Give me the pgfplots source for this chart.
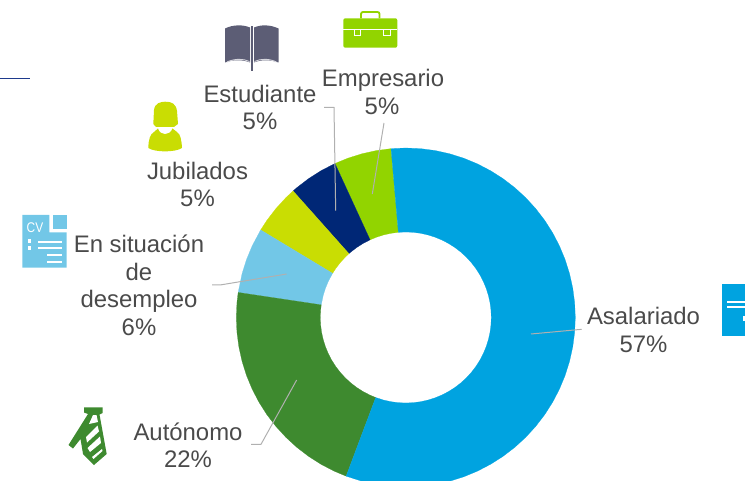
\documentclass[border=0pt]{standalone}
\usepackage{pgfplots}
\usepackage{fontspec}
\setmainfont{Liberation Sans}
\pgfplotsset{compat=1.18}
\definecolor{cAsal}{HTML}{00A3E0}
\definecolor{cAut}{HTML}{3E8A2F}
\definecolor{cDes}{HTML}{72C7E7}
\definecolor{cJub}{HTML}{C9DD03}
\definecolor{cEst}{HTML}{002776}
\definecolor{cEmp}{HTML}{92D400}
\definecolor{cBook}{HTML}{5C5D75}
\definecolor{cTxt}{HTML}{4A4A4A}
\definecolor{cLead}{HTML}{B0B0B0}
\begin{document}
\begin{tikzpicture}
\path[use as bounding box] (0,0) rectangle (745pt,480pt);
\begin{axis}[
  at={(0,0)},anchor=south west,
  width=745pt,height=480pt,scale only axis,
  xmin=-405.8,xmax=339.2,ymin=-162.5,ymax=317.5,
  hide axis,clip=true,
  every axis plot/.append style={no markers,line width=0.2pt,data cs=polar}]
% Empresario 5%
\addplot[fill=cEmp,draw=cEmp] coordinates {
 (95,169.5)(100,169.5)(105,169.5)(110,169.5)(114.7,169.5)
 (114.7,85.5)(110,85.5)(105,85.5)(100,85.5)(95,85.5)(95,169.5)};
% Estudiante 5%
\addplot[fill=cEst,draw=cEst] coordinates {
 (114.7,169.5)(120,169.5)(125,169.5)(130,169.5)(131.7,169.5)
 (131.7,85.5)(130,85.5)(125,85.5)(120,85.5)(114.7,85.5)(114.7,169.5)};
% Jubilados 5%
\addplot[fill=cJub,draw=cJub] coordinates {
 (131.7,169.5)(135,169.5)(140,169.5)(145,169.5)(148.9,169.5)
 (148.9,85.5)(145,85.5)(140,85.5)(135,85.5)(131.7,85.5)(131.7,169.5)};
% En situacion de desempleo 6%
\addplot[fill=cDes,draw=cDes] coordinates {
 (148.9,169.5)(155,169.5)(160,169.5)(165,169.5)(171.5,169.5)
 (171.5,85.5)(165,85.5)(160,85.5)(155,85.5)(148.9,85.5)(148.9,169.5)};
% Autonomo 22%
\addplot[fill=cAut,draw=cAut] coordinates {
 (171.5,169.5)(175,169.5)(180,169.5)(185,169.5)(190,169.5)(195,169.5)(200,169.5)(205,169.5)(210,169.5)(215,169.5)(220,169.5)(225,169.5)(230,169.5)(235,169.5)(240,169.5)(245,169.5)(249.4,169.5)
 (249.4,85.5)(245,85.5)(240,85.5)(235,85.5)(230,85.5)(225,85.5)(220,85.5)(215,85.5)(210,85.5)(205,85.5)(200,85.5)(195,85.5)(190,85.5)(185,85.5)(180,85.5)(175,85.5)(171.5,85.5)(171.5,169.5)};
% Asalariado 57%
\addplot[fill=cAsal,draw=cAsal] coordinates {
 (-110.6,169.5)(-105,169.5)(-100,169.5)(-95,169.5)(-90,169.5)(-85,169.5)(-80,169.5)(-75,169.5)(-70,169.5)(-65,169.5)(-60,169.5)(-55,169.5)(-50,169.5)(-45,169.5)(-40,169.5)(-35,169.5)(-30,169.5)(-25,169.5)(-20,169.5)(-15,169.5)(-10,169.5)(-5,169.5)(0,169.5)(5,169.5)(10,169.5)(15,169.5)(20,169.5)(25,169.5)(30,169.5)(35,169.5)(40,169.5)(45,169.5)(50,169.5)(55,169.5)(60,169.5)(65,169.5)(70,169.5)(75,169.5)(80,169.5)(85,169.5)(90,169.5)(95,169.5)
 (95,85.5)(90,85.5)(85,85.5)(80,85.5)(75,85.5)(70,85.5)(65,85.5)(60,85.5)(55,85.5)(50,85.5)(45,85.5)(40,85.5)(35,85.5)(30,85.5)(25,85.5)(20,85.5)(15,85.5)(10,85.5)(5,85.5)(0,85.5)(-5,85.5)(-10,85.5)(-15,85.5)(-20,85.5)(-25,85.5)(-30,85.5)(-35,85.5)(-40,85.5)(-45,85.5)(-50,85.5)(-55,85.5)(-60,85.5)(-65,85.5)(-70,85.5)(-75,85.5)(-80,85.5)(-85,85.5)(-90,85.5)(-95,85.5)(-100,85.5)(-105,85.5)(-110.6,85.5)(-110.6,169.5)};
\end{axis}
\begin{scope}[x=1pt,y=-1pt,yshift=480pt]
% header rule
\draw[color={rgb,255:red,30;green,58;blue,140},line width=1.5pt] (0,78.3)--(29.7,78.3);
% leaders
\begin{scope}[cLead,line width=1pt]
\draw (384,123)--(372.3,194);
\draw (324,107.3)--(334,107.3)--(335.7,210.7);
\draw (212,285)--(220,285)--(286.7,274);
\draw (251,444.3)--(261,444.3)--(296.7,380);
\draw (581.7,329.3)--(531,334);
\end{scope}
% labels
\begin{scope}[every node/.style={anchor=base,inner sep=0pt,text=cTxt,font=\fontsize{23.9}{27}\selectfont}]
\node at (383,86.5) {Empresario};
\node at (382,114.5) {5\%};
\node at (260,102.5) {Estudiante};
\node at (260,130) {5\%};
\node at (197.5,179.5) {Jubilados};
\node at (197.5,207) {5\%};
\node at (139,253) {En situación};
\node at (139,280.5) {de};
\node at (139,308) {desempleo};
\node at (139,335.5) {6\%};
\node at (188,440) {Autónomo};
\node at (188,467.5) {22\%};
\node at (643.5,325) {Asalariado};
\node at (643.5,352.5) {57\%};
\end{scope}
% book icon
\fill[cBook] (225,28.5) .. controls (233,24.5) and (243,24.5) .. (250,27.5) -- (250,62.5) .. controls (243,59.5) and (233,59.5) .. (225,62.5) -- cycle;
\fill[cBook] (278.5,28.5) .. controls (270,24.5) and (261,24.5) .. (254,27.5) -- (254,62.5) .. controls (261,59.5) and (270,59.5) .. (278.5,62.5) -- cycle;
\fill[cBook] (250.8,26) rectangle (253.3,71);
\draw[white!75!cBook,line width=.9pt] (227,62) .. controls (235,58.5) and (243,58.5) .. (249.5,61.5);
\draw[white!75!cBook,line width=.9pt] (276.5,62) .. controls (269,58.5) and (261,58.5) .. (254.5,61.5);
% briefcase icon
\draw[cEmp,line width=1.8pt,rounded corners=2pt] (361,18.5)--(361,12)--(379.5,12)--(379.5,18.5);
\fill[cEmp,rounded corners=2pt] (343.3,18.3) rectangle (397.3,47.7);
\fill[white] (343.3,29) rectangle (397.3,30.3);
\draw[white,line width=1pt] (354,30)--(354,35.5)--(360.5,35.5)--(360.5,30);
\draw[white,line width=1pt] (383,30)--(383,35.5)--(390,35.5)--(390,30);
% person icon
\fill[cJub] (153.3,124) -- (154,110) .. controls (155,103) and (160,102) .. (165,101.7) .. controls (172,101.5) and (176,104) .. (177,111) -- (178,124) -- (174,127) -- (156,127) -- cycle;
\fill[cJub] (148.3,148) .. controls (148.5,140) and (150,134) .. (154,132) -- (158,128.5) .. controls (160,136) and (170,136) .. (172.5,128.5) -- (177,132) .. controls (180.5,134) and (181.5,140) .. (182,148) .. controls (175,152.5) and (155,152.5) .. (148.3,148) -- cycle;
% CV icon
\fill[cDes] (22.3,215) -- (49.3,215) -- (49.3,232.3) -- (66.7,232.3) -- (66.7,267.7) -- (22.3,267.7) -- cycle;
\fill[cDes] (52.7,215) rectangle (66.7,229.3);
\node[text=white,anchor=base,inner sep=0pt,font=\fontsize{14}{14}\selectfont] at (35,232.3) {\scalebox{.85}[1]{CV}};
\fill[white] (28,239.5) rectangle (31,243);
\fill[white] (28,246.5) rectangle (31,250);
\fill[white] (38.3,240.7) rectangle (62,242.6);
\fill[white] (38.3,247.4) rectangle (62,249.3);
\fill[white] (47,254.1) rectangle (62,256);
\fill[white] (47,260.8) rectangle (62,262.7);
% tie icon
\fill[cAut] (84,407.3) -- (102.7,407.3) -- (102.7,413) -- (99.5,414.5) -- (106.7,454) -- (94,465) -- (83,454) -- (80.5,439) -- (73,448.5) -- (68.5,445) -- (88,414) -- (84,412.5) -- cycle;
\fill[white] (89,424) -- (93,415) -- (96.5,415) -- (98,422) -- cycle;
\fill[white] (86,437) -- (97.5,425.5) -- (99,431.5) -- (87,442.5) -- cycle;
\fill[white] (87.5,448) -- (100,436.5) -- (101,443) -- (90,452) -- cycle;
\fill[white] (92,457) -- (102,449) -- (102.5,451) -- (93.5,459) -- cycle;
% right icon
\fill[cAsal] (721.7,284) rectangle (745,336);
\fill[white] (727,300.8) rectangle (745,302.6);
\fill[white] (727,306) rectangle (745,307.8);
\fill[white] (743.3,316) rectangle (745,321);
\end{scope}
\end{tikzpicture}
\end{document}
